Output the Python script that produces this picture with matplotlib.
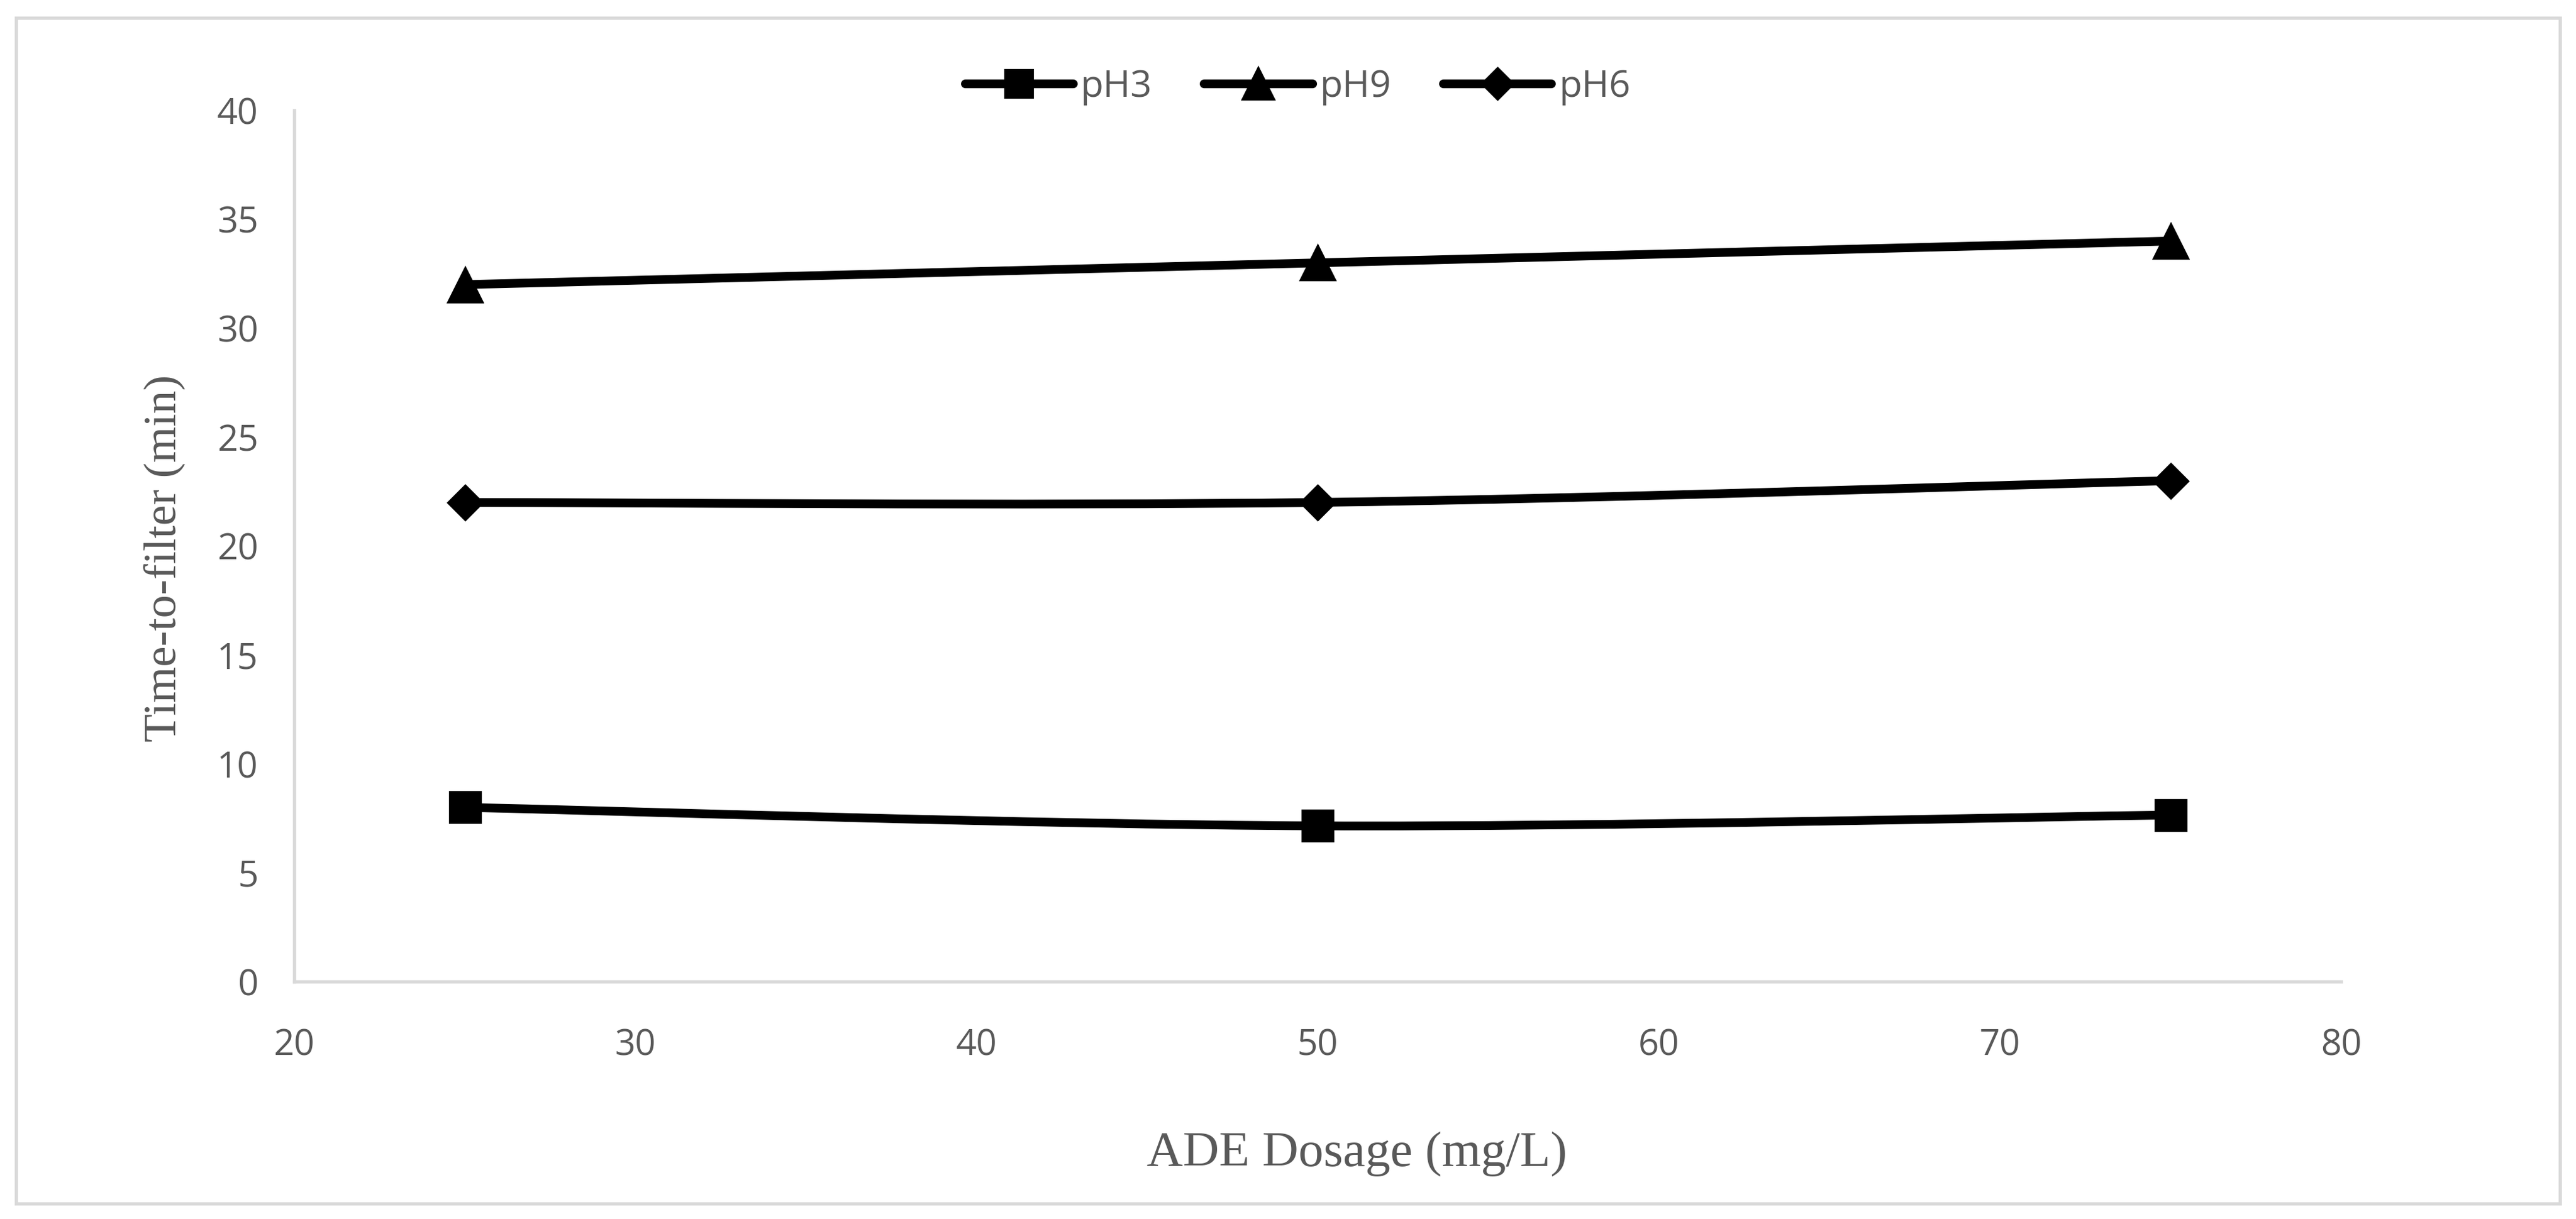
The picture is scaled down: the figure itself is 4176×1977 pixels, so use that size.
import matplotlib
matplotlib.use("Agg")
import matplotlib.pyplot as plt
from matplotlib.path import Path
from matplotlib.patches import PathPatch, Rectangle
from matplotlib.lines import Line2D
import numpy as np

# ---- data ----
dosage = [25, 50, 75]
series_names = ["pH3", "pH9", "pH6"]
ph3 = [8.0, 7.15, 7.65]
ph9 = [32.0, 33.0, 34.0]
ph6 = [22.0, 22.0, 23.0]
markers = ["s", "^", "D"]
marker_sizes = [11.8, 13.4, 9.6]
x_ticks = [20, 30, 40, 50, 60, 70, 80]
y_ticks = [0, 5, 10, 15, 20, 25, 30, 35, 40]
x_label = "ADE Dosage (mg/L)"
y_label = "Time-to-filter (min)"

W, H = 4176, 1977
DPI = 300
fig = plt.figure(figsize=(W / DPI, H / DPI), dpi=DPI)
fig.patch.set_facecolor("white")

# outer border
fig.patches.append(Rectangle((26 / W, 1 - 1952 / H), (4150 - 26) / W, (1952 - 29) / H,
                             transform=fig.transFigure, fill=False,
                             edgecolor="#d9d9d9", linewidth=1.3, zorder=0))

ax = fig.add_axes([477 / W, 1 - 1592 / H, (3795 - 477) / W, (1592 - 179) / H])
ax.set_xlim(20, 80)
ax.set_ylim(0, 40)
ax.set_xticks(x_ticks)
ax.set_yticks(y_ticks)
for s in ["top", "right"]:
    ax.spines[s].set_visible(False)
for s in ["left", "bottom"]:
    ax.spines[s].set_color("#d9d9d9")
    ax.spines[s].set_linewidth(1.3)
ax.tick_params(axis="both", length=0, labelcolor="#595959", labelsize=14)
ax.tick_params(axis="x", pad=18)
ax.tick_params(axis="y", pad=14)
for lab in ax.get_xticklabels() + ax.get_yticklabels():
    lab.set_fontfamily("Open Sans")


def smooth_path(xs, ys):
    pts = list(zip(xs, ys))
    n = len(pts)
    verts = [pts[0]]
    codes = [Path.MOVETO]
    for i in range(n - 1):
        p0 = pts[i - 1] if i > 0 else pts[i]
        p1 = pts[i]
        p2 = pts[i + 1]
        p3 = pts[i + 2] if i + 2 < n else pts[i + 1]
        c1 = (p1[0] + (p2[0] - p0[0]) / 6.0, p1[1] + (p2[1] - p0[1]) / 6.0)
        c2 = (p2[0] - (p3[0] - p1[0]) / 6.0, p2[1] - (p3[1] - p1[1]) / 6.0)
        verts += [c1, c2, p2]
        codes += [Path.CURVE4, Path.CURVE4, Path.CURVE4]
    return Path(verts, codes)


LW = 3.4
handles = []
for name, vals, mk, ms in zip(series_names, [ph3, ph9, ph6], markers, marker_sizes):
    patch = PathPatch(smooth_path(dosage, vals), facecolor="none", edgecolor="black",
                      linewidth=LW, capstyle="round", joinstyle="round", zorder=3)
    ax.add_patch(patch)
    ax.plot(dosage, vals, linestyle="none", marker=mk, markersize=ms,
            markerfacecolor="black", markeredgecolor="black", markeredgewidth=0.8,
            zorder=4)
    handles.append(Line2D([0], [0], color="black", linewidth=LW, marker=mk,
                          markersize=ms * 0.9, markerfacecolor="black",
                          markeredgecolor="black", solid_capstyle="round",
                          label=name))

leg = fig.legend(handles=handles, loc="center", ncol=3,
                 bbox_to_anchor=(2104 / W, 1 - 141 / H), frameon=False,
                 handlelength=2.9, handletextpad=0.2, columnspacing=1.4,
                 prop={"family": "Open Sans", "size": 14.5})
for t in leg.get_texts():
    t.set_color("#595959")

fig.text(266 / W, 1 - 905 / H, y_label, rotation=90, ha="center", va="center",
         fontfamily="Liberation Serif", fontsize=18, color="#595959")
fig.text(2200 / W, 1 - 1872 / H, x_label, ha="center", va="center",
         fontfamily="Liberation Serif", fontsize=19.5, color="#595959")

fig.savefig("out.png", dpi=DPI, facecolor="white")
